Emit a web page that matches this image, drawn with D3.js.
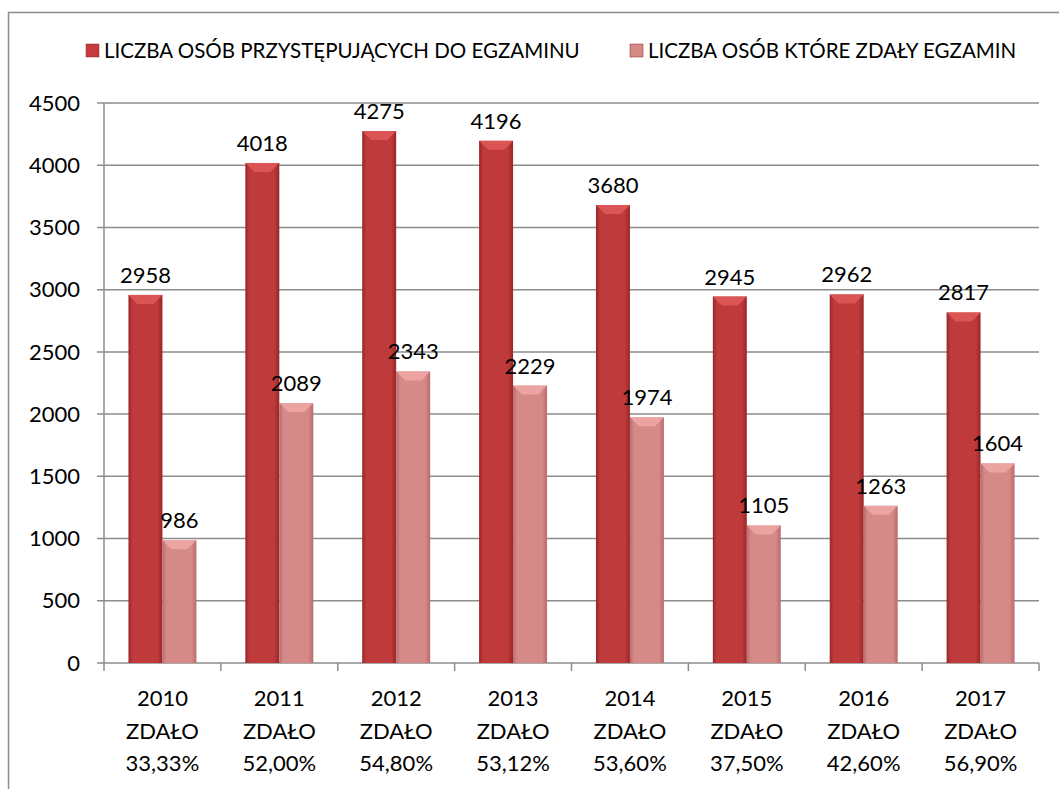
<!DOCTYPE html>
<html>
<head>
<meta charset="utf-8">
<script src="https://cdn.jsdelivr.net/npm/d3@7"></script>
<style>
  body { margin: 0; background: #fff; }
  svg { display: block; font-family: Lato, "Liberation Sans", sans-serif; }
</style>
</head>
<body>
<div id="chart"></div>
<script>
const years = ["2010", "2011", "2012", "2013", "2014", "2015", "2016", "2017"];
const passRates = ["33,33%", "52,00%", "54,80%", "53,12%", "53,60%", "37,50%", "42,60%", "56,90%"];
const takers = [2958, 4018, 4275, 4196, 3680, 2945, 2962, 2817];
const passed = [986, 2089, 2343, 2229, 1974, 1105, 1263, 1604];
const yTicks = [0, 500, 1000, 1500, 2000, 2500, 3000, 3500, 4000, 4500];
const seriesNames = ["LICZBA OSÓB PRZYSTĘPUJĄCYCH DO EGZAMINU", "LICZBA OSÓB KTÓRE ZDAŁY EGZAMIN"];

const width = 1059, height = 789;
const margin = { left: 104, right: 20, top: 103, bottom: 126 };
const gridColor = "#8c8c8c";

const svg = d3.select("#chart").append("svg")
    .attr("width", width)
    .attr("height", height);

// gradients for the bevelled bar look
const defs = svg.append("defs");
function addGradient(id, edge, mid) {
    let g = defs.append("linearGradient").attr("id", id)
        .attr("x1", "0").attr("x2", "1").attr("y1", "0").attr("y2", "0");
    g.append("stop").attr("offset", "0%").attr("stop-color", edge);
    g.append("stop").attr("offset", "12%").attr("stop-color", mid);
    g.append("stop").attr("offset", "85%").attr("stop-color", mid);
    g.append("stop").attr("offset", "100%").attr("stop-color", edge);
}
addGradient("gradDark", "#992628", "#bf3a3a");
addGradient("gradLight", "#b96b6b", "#d68a88");

const series = [
    { name: seriesNames[0], values: takers, fill: "url(#gradDark)", cap: "#e05a5a", swatch: "#c43c3c" },
    { name: seriesNames[1], values: passed, fill: "url(#gradLight)", cap: "#eea8a6", swatch: "#d68a88" }
];

// chart frame
svg.append("rect")
    .attr("x", 8.5).attr("y", 12.5)
    .attr("width", width + 20).attr("height", height + 20)
    .attr("fill", "none")
    .attr("stroke", gridColor)
    .attr("stroke-width", 1.5);

const x = d3.scaleBand()
    .domain(years)
    .range([margin.left, width - margin.right])
    .paddingInner(0)
    .paddingOuter(0);

const xInner = d3.scaleBand()
    .domain([0, 1])
    .range([0, x.bandwidth()])
    .paddingOuter(0.72)
    .paddingInner(0);

const y = d3.scaleLinear()
    .domain([0, 4500])
    .range([height - margin.bottom, margin.top]);

// gridlines
svg.append("g")
    .selectAll("line")
    .data(yTicks)
    .enter()
    .append("line")
    .attr("x1", margin.left - 7)
    .attr("x2", width - margin.right)
    .attr("y1", d => y(d))
    .attr("y2", d => y(d))
    .attr("stroke", gridColor)
    .attr("stroke-width", 1.5);

// y axis line
svg.append("line")
    .attr("x1", margin.left).attr("x2", margin.left)
    .attr("y1", y(4500)).attr("y2", y(0))
    .attr("stroke", gridColor).attr("stroke-width", 1.5);

// x category ticks
svg.append("g")
    .selectAll("line")
    .data(years.concat(["end"]))
    .enter()
    .append("line")
    .attr("x1", (d, i) => margin.left + i * x.bandwidth())
    .attr("x2", (d, i) => margin.left + i * x.bandwidth())
    .attr("y1", y(0))
    .attr("y2", y(0) + 8)
    .attr("stroke", gridColor)
    .attr("stroke-width", 1.5);

// y tick labels
svg.append("g")
    .selectAll("text")
    .data(yTicks)
    .enter()
    .append("text")
    .attr("x", 80)
    .attr("y", d => y(d))
    .attr("dy", "0.35em")
    .attr("text-anchor", "end")
    .attr("font-size", "22px")
    .attr("fill", "#000")
    .text(d => d);

// bars
series.forEach((s, si) => {
    let g = svg.append("g");
    let bw = xInner.bandwidth();
    let bars = years.map((yr, i) => ({
        x0: x(yr) + xInner(si),
        top: y(s.values[i]),
        bottom: y(0),
        value: s.values[i]
    }));

    g.selectAll("rect")
        .data(bars)
        .enter()
        .append("rect")
        .attr("x", d => d.x0)
        .attr("y", d => d.top)
        .attr("width", bw)
        .attr("height", d => d.bottom - d.top)
        .attr("fill", s.fill);

    // top bevel
    g.selectAll("polygon")
        .data(bars)
        .enter()
        .append("polygon")
        .attr("points", d => {
            let b = 9;
            return [
                [d.x0, d.top], [d.x0 + bw, d.top],
                [d.x0 + bw - b, d.top + b], [d.x0 + b, d.top + b]
            ].map(p => p.join(",")).join(" ");
        })
        .attr("fill", s.cap)
        .attr("opacity", 0.85);

    // value labels
    g.selectAll("text")
        .data(bars)
        .enter()
        .append("text")
        .attr("x", d => d.x0 + bw / 2)
        .attr("y", d => d.top - 12)
        .attr("text-anchor", "middle")
        .attr("font-size", "22px")
        .attr("fill", "#000")
        .text(d => d.value);
});

// x axis labels
const xLabels = svg.append("g")
    .selectAll("text")
    .data(years)
    .enter()
    .append("text")
    .attr("x", d => x(d) + x.bandwidth() / 2)
    .attr("y", 706)
    .attr("text-anchor", "middle")
    .attr("font-size", "22px")
    .attr("fill", "#000");

xLabels.append("tspan")
    .attr("x", d => x(d) + x.bandwidth() / 2)
    .text(d => d);
xLabels.append("tspan")
    .attr("x", d => x(d) + x.bandwidth() / 2)
    .attr("dy", 32.5)
    .text("ZDAŁO");
xLabels.append("tspan")
    .attr("x", d => x(d) + x.bandwidth() / 2)
    .attr("dy", 32.5)
    .text((d, i) => passRates[i]);

// legend
const legendX = [86, 630];
series.forEach((s, si) => {
    let lg = svg.append("g").attr("transform", `translate(${legendX[si]},44)`);
    lg.append("rect")
        .attr("width", 13).attr("height", 13)
        .attr("fill", s.swatch)
        .attr("stroke", "#8a2a2a")
        .attr("stroke-width", 0.5);
    lg.append("text")
        .attr("x", 18)
        .attr("y", 6.5)
        .attr("dy", "0.35em")
        .attr("font-size", "20.5px")
        .attr("fill", "#000")
        .text(s.name);
});
</script>
</body>
</html>
